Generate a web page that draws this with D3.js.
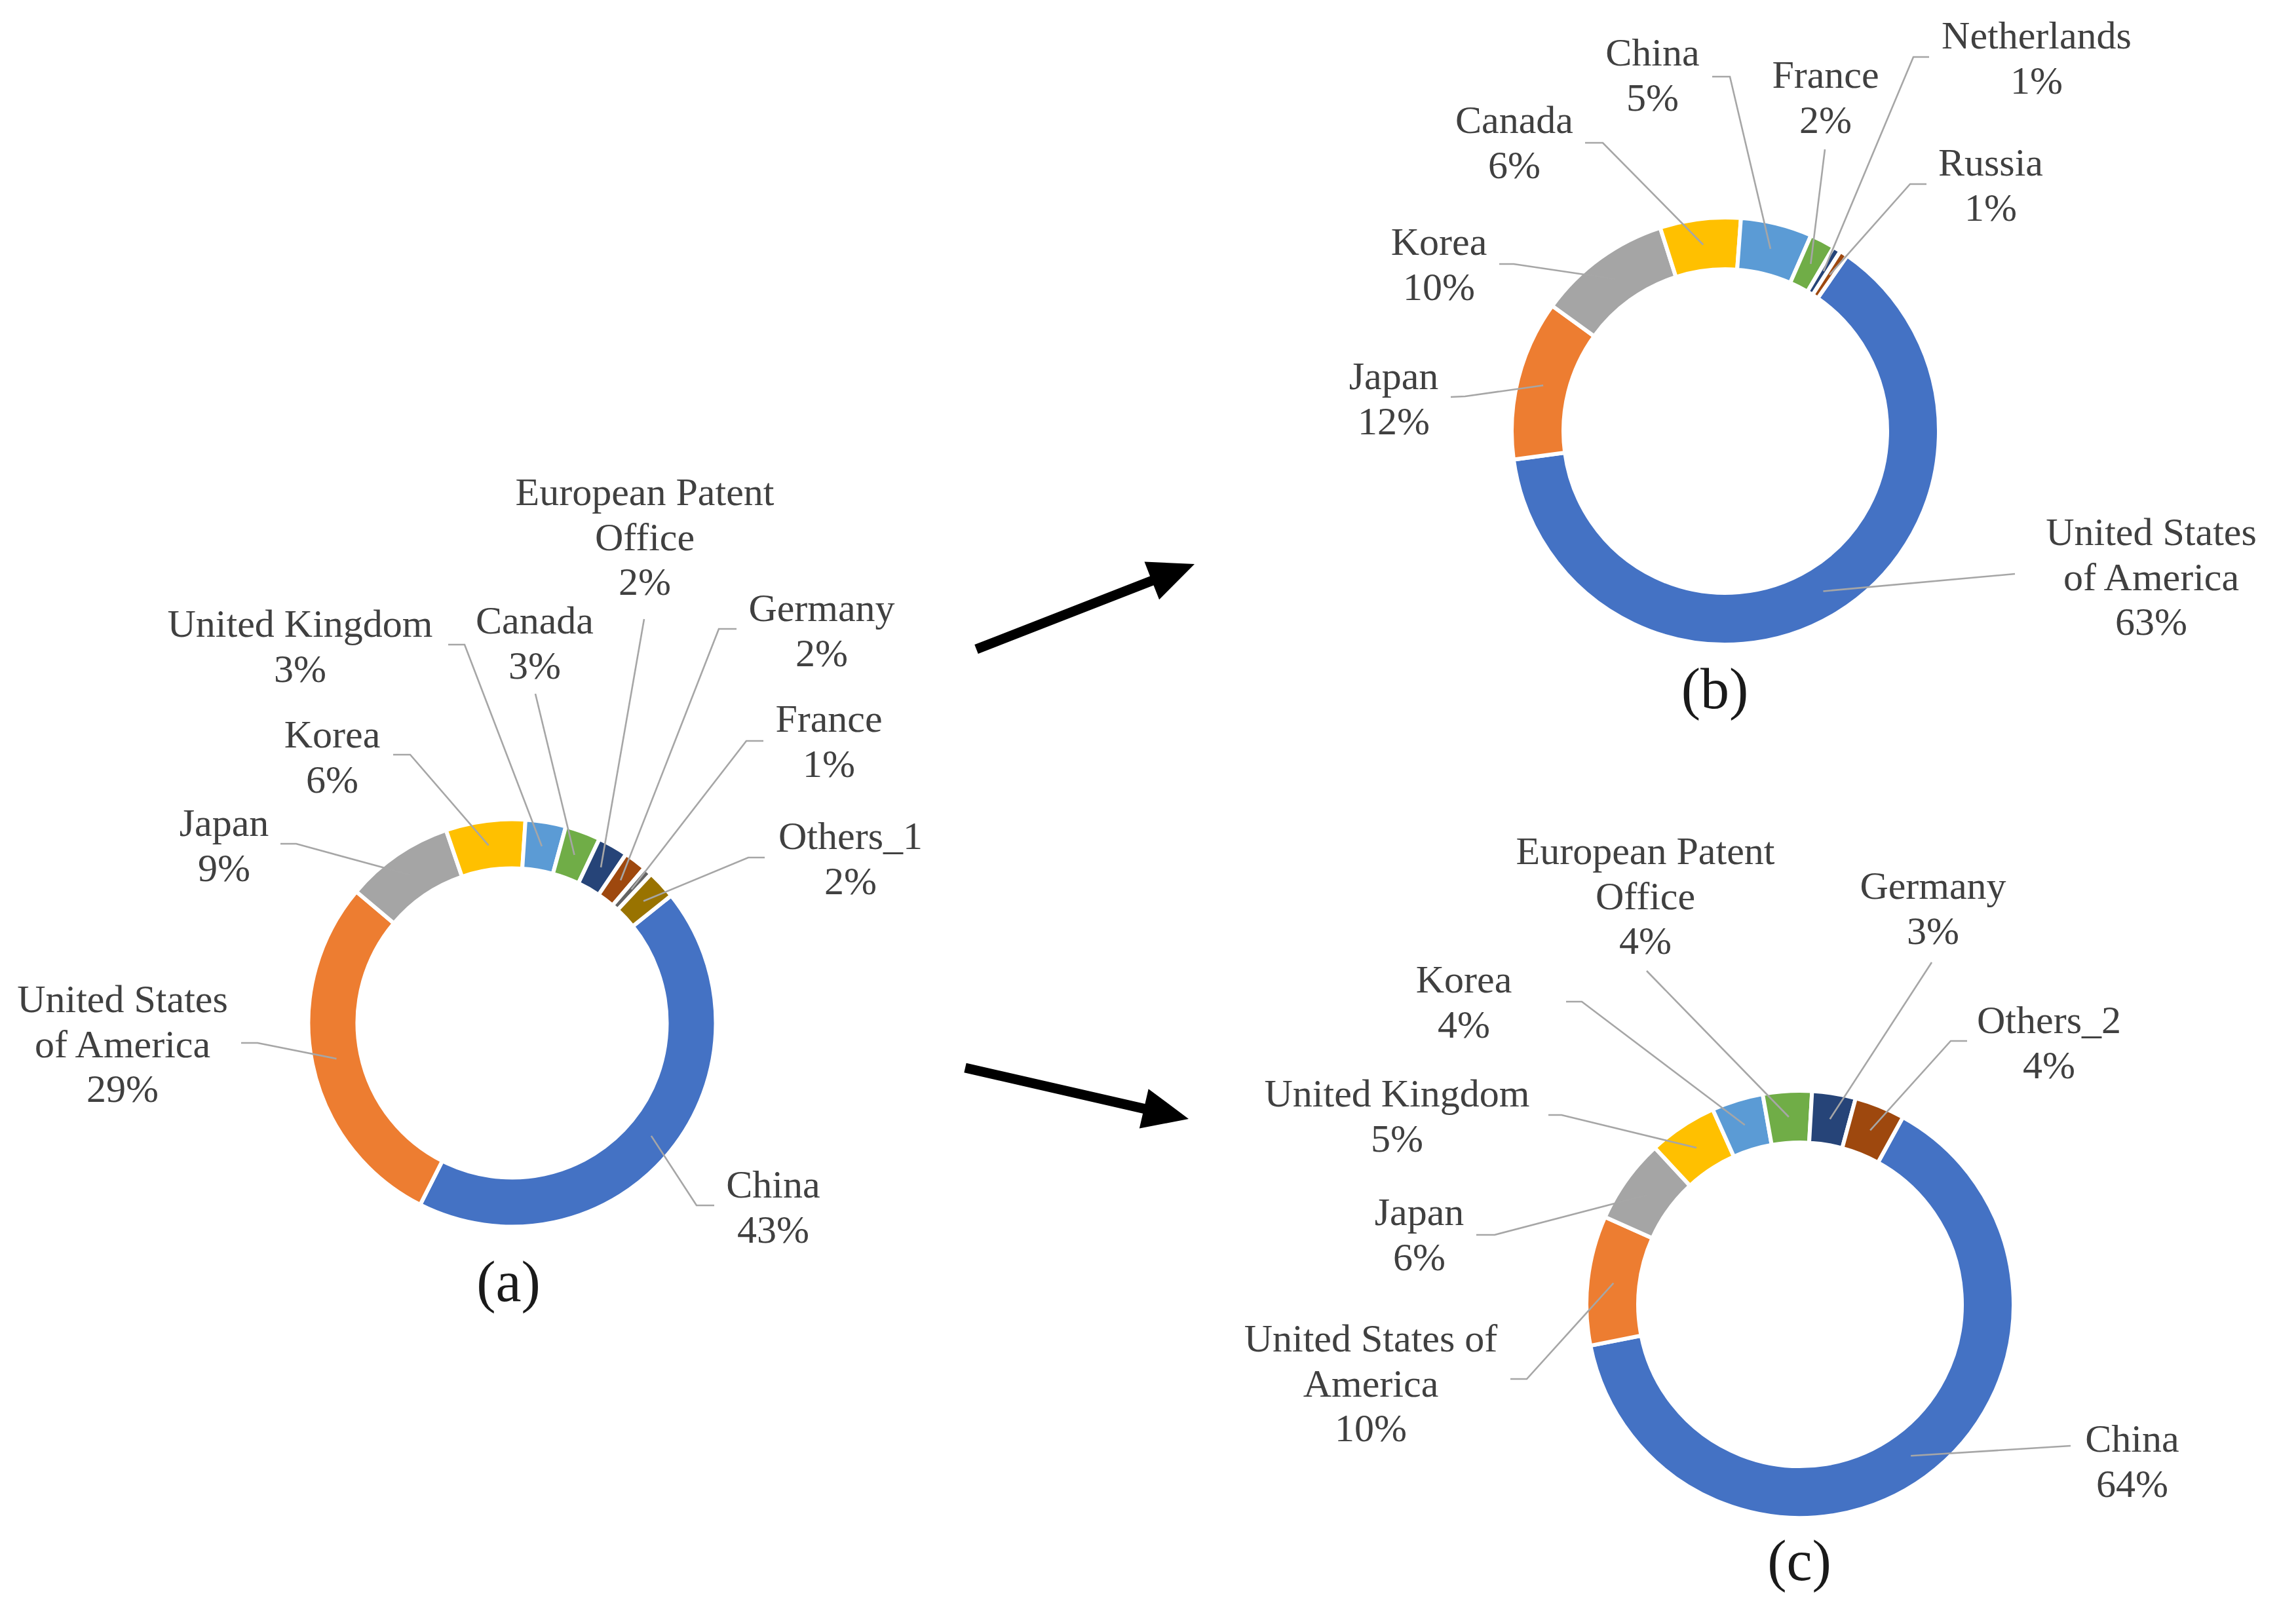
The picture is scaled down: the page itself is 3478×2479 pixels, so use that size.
<!DOCTYPE html>
<html><head><meta charset="utf-8">
<script src="https://cdn.jsdelivr.net/npm/d3@7"></script>
<style>html,body{margin:0;padding:0;background:#fff;} svg{display:block}</style>
</head><body>
<svg id="chart" width="3478" height="2479"></svg>
<script>
// ---------- DATA ----------
const colors = ["#4472C4","#ED7D31","#A5A5A5","#FFC000","#5B9BD5","#70AD47","#264478","#9E480E","#636363","#997300"];

const categoriesA = ["China","United States\nof America","Japan","Korea","United Kingdom","Canada","European Patent\nOffice","Germany","France","Others_1"];
const valuesA = [43.2, 28.7, 8.6, 6.3, 3.2, 2.8, 2.4, 1.8, 0.7, 2.3];

const categoriesB = ["United States\nof America","Japan","Korea","Canada","China","France","Netherlands","Russia"];
const valuesB = [63.2, 12.1, 10.1, 6.1, 5.4, 1.9, 0.6, 0.6];

const categoriesC = ["China","United States of\nAmerica","Japan","United Kingdom","Korea","European Patent\nOffice","Germany","Others_2"];
const valuesC = [63.9, 9.8, 6.4, 5.2, 3.9, 3.7, 3.3, 3.8];

const captions = ["(a)", "(b)", "(c)"];

// ---------- LAYOUT ----------
const layoutA = {cx:781.5, cy:1561.5, R:308, r:239, start:51.3, caption:[776,1986],
  labels:[
    {x:1180,y:1828,knee:[1063,1840],end:[1090,1840]},
    {x:187,y:1545,knee:[393,1592],end:[368,1592]},
    {x:342,y:1276,knee:[452,1288],end:[428,1288]},
    {x:507,y:1141,knee:[626,1152],end:[600,1152]},
    {x:458,y:972,knee:[709,984],end:[684,984]},
    {x:816,y:967,knee:[817,1059],end:[817,1059]},
    {x:984,y:771,knee:[983,945],end:[983,945]},
    {x:1254,y:948,knee:[1097,960],end:[1124,960]},
    {x:1265,y:1117,knee:[1139,1131],end:[1165,1131]},
    {x:1298,y:1296,knee:[1142,1309],end:[1167,1309]}
  ]};
const layoutB = {cx:2633, cy:658, R:323, r:250, start:34.8, caption:[2617,1081],
  labels:[
    {x:3283,y:832,knee:[3075,876],end:[3075,876]},
    {x:2127,y:594,knee:[2236,605],end:[2214,606]},
    {x:2196,y:389,knee:[2310,403],end:[2288,403]},
    {x:2311,y:203,knee:[2446,218],end:[2419,218]},
    {x:2522,y:100,knee:[2640,117],end:[2613,117]},
    {x:2786,y:134,knee:[2785,228],end:[2785,228]},
    {x:3108,y:74,knee:[2920,87],end:[2944,87]},
    {x:3038,y:268,knee:[2915,281],end:[2940,281]}
  ]};
const layoutC = {cx:2747, cy:1991, R:323, r:250, start:28.8, caption:[2746,2412],
  labels:[
    {x:3254,y:2216,knee:[3160,2207],end:[3160,2207]},
    {x:2092,y:2063,knee:[2330,2105],end:[2305,2105]},
    {x:2166,y:1870,knee:[2281,1885],end:[2253,1885]},
    {x:2132,y:1689,knee:[2383,1702],end:[2363,1702]},
    {x:2234,y:1515,knee:[2414,1529],end:[2390,1529]},
    {x:2511,y:1319,knee:[2513,1482],end:[2513,1482]},
    {x:2950,y:1372,knee:[2948,1469],end:[2948,1469]},
    {x:3127,y:1577,knee:[2977,1589],end:[3002,1589]}
  ]};
const arrows = [
  {tail:[1490,991], tip:[1823,861]},
  {tail:[1473,1630], tip:[1814,1708]}
];

const FONT = "'Liberation Serif','Times New Roman',serif";
const svg = d3.select("#chart");
svg.append("rect").attr("width",3478).attr("height",2479).attr("fill","#fff");

function drawDonut(cats, vals, L, caption) {
  const s = L.start * Math.PI / 180;
  const pie = d3.pie().sort(null).value(d => d).startAngle(s).endAngle(s + 2 * Math.PI);
  const arcs = pie(vals);
  const arc = d3.arc().innerRadius(L.r - 3).outerRadius(L.R + 3);
  const mid = d3.arc().innerRadius(L.r).outerRadius(L.R);
  const total = d3.sum(vals);
  const g = svg.append("g");
  const ring = g.append("g").attr("transform", `translate(${L.cx},${L.cy})`);
  ring.selectAll("path").data(arcs).join("path")
    .attr("d", arc)
    .attr("fill", (d, i) => colors[i])
    .attr("stroke", "#fff").attr("stroke-width", 6).attr("stroke-linejoin", "miter");

  const line = d3.line();
  arcs.forEach((d, i) => {
    const c = mid.centroid(d);
    const lab = L.labels[i];
    const pts = [[L.cx + c[0], L.cy + c[1]], lab.knee, lab.end];
    g.append("path").attr("d", line(pts)).attr("fill", "none")
      .attr("stroke", "#A6A6A6").attr("stroke-width", 2.6);
  });

  arcs.forEach((d, i) => {
    const lab = L.labels[i];
    const lines = cats[i].split("\n").concat([Math.round(d.data / total * 100) + "%"]);
    const t = g.append("text").attr("x", lab.x).attr("y", lab.y)
      .attr("text-anchor", "middle").attr("font-family", FONT).attr("font-size", 60).attr("fill", "#404040");
    lines.forEach((ln, k) => {
      t.append("tspan").attr("x", lab.x).attr("y", lab.y + k * 68.5).text(ln);
    });
  });

  svg.append("text").attr("x", L.caption[0]).attr("y", L.caption[1])
    .attr("text-anchor", "middle").attr("font-family", FONT).attr("font-size", 88)
    .attr("fill", "#1a1a1a").text(caption);
}

drawDonut(categoriesA, valuesA, layoutA, captions[0]);
drawDonut(categoriesB, valuesB, layoutB, captions[1]);
drawDonut(categoriesC, valuesC, layoutC, captions[2]);

arrows.forEach(a => {
  const dx = a.tip[0] - a.tail[0], dy = a.tip[1] - a.tail[1];
  const len = Math.hypot(dx, dy), ux = dx / len, uy = dy / len, px = -uy, py = ux;
  const headL = 70, headW = 31, sw = 7.5;
  const bx = a.tip[0] - ux * headL, by = a.tip[1] - uy * headL;
  const pts = [
    [a.tail[0] + px * sw, a.tail[1] + py * sw],
    [bx + px * sw, by + py * sw],
    [bx + px * headW, by + py * headW],
    a.tip,
    [bx - px * headW, by - py * headW],
    [bx - px * sw, by - py * sw],
    [a.tail[0] - px * sw, a.tail[1] - py * sw]
  ];
  svg.append("path").attr("d", d3.line()(pts) + "Z").attr("fill", "#000");
});
</script>
</body></html>
